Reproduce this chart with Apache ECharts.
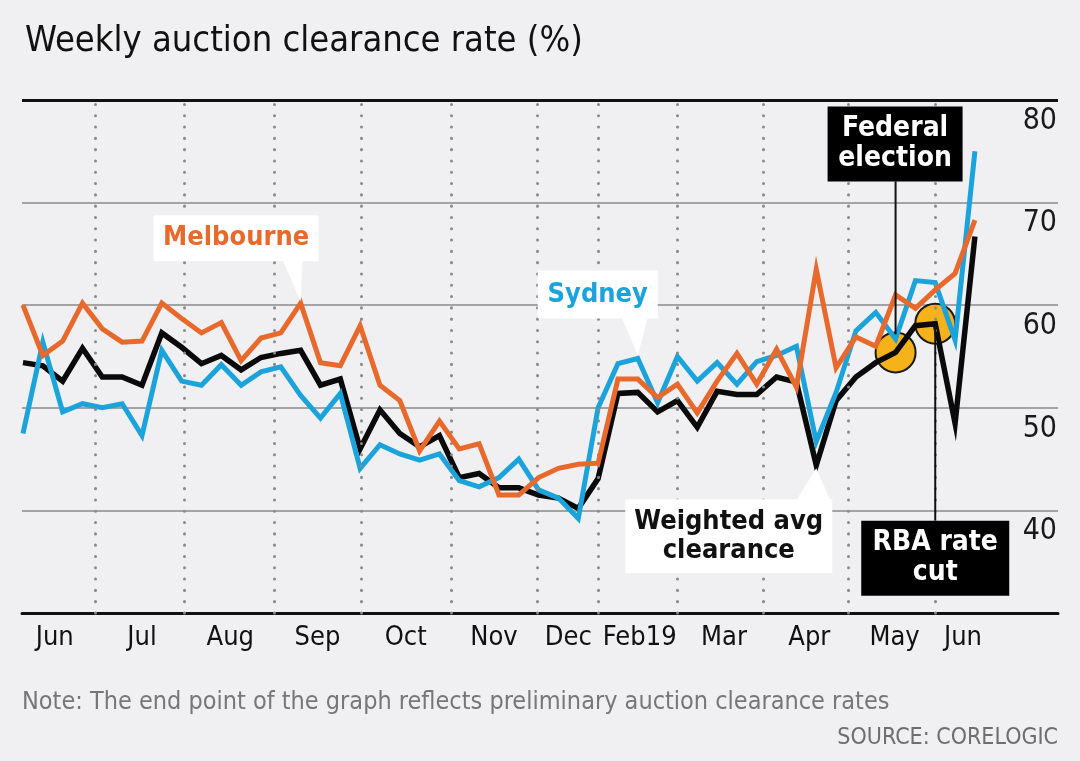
<!DOCTYPE html>
<html>
<head>
<meta charset="utf-8">
<script src="https://cdn.jsdelivr.net/npm/echarts@6/dist/echarts.min.js"></script>
<style>
  html, body { margin: 0; padding: 0; background: #f0eff1; }
  #main { width: 1080px; height: 761px; }
</style>
</head>
<body>
<div id="main"></div>
<script>
// ---- data (weekly, x = week number in the series) ----
const melbourne = [60.0, 55.1, 56.5, 60.2, 57.7, 56.4, 56.5, 60.2, 58.7, 57.3, 58.3, 54.6, 56.8, 57.3, 60.2, 54.4, 54.1,
  58.0, 52.2, 50.7, 45.8, 48.7, 46.0, 46.5, 41.5, 41.5, 43.2, 44.1, 44.5, 44.6, 52.8, 52.8, 51.0, 52.3, 49.5, 52.6,
  55.3, 52.3, 55.7, 52.0, 63.5, 53.9, 56.9, 56.0, 61.0, 59.7, 61.5, 63.1, 68.3];
const sydney = [47.5, 56.4, 49.6, 50.4, 50.0, 50.4, 47.3, 55.6, 52.6, 52.2, 54.2, 52.2, 53.5, 54.0, 51.2, 49.0, 51.4,
  44.1, 46.4, 45.5, 44.9, 45.5, 42.9, 42.3, 43.2, 45.0, 42.0, 41.2, 39.2, 50.0, 54.3, 54.8, 50.5, 55.0, 52.6, 54.4,
  52.3, 54.5, 55.1, 56.0, 46.7, 51.5, 57.5, 59.3, 56.7, 62.4, 62.2, 56.6, 75.0];
const weighted = [54.4, 54.1, 52.6, 55.8, 53.0, 53.0, 52.2, 57.3, 55.9, 54.3, 55.1, 53.7, 54.9, 55.3, 55.6, 52.2, 52.8,
  46.0, 49.8, 47.5, 46.2, 47.3, 43.2, 43.6, 42.2, 42.2, 41.5, 41.2, 40.2, 43.1, 51.4, 51.5, 49.6, 50.7, 48.1, 51.6,
  51.3, 51.3, 53.0, 52.5, 44.4, 50.7, 53.0, 54.4, 55.4, 58.0, 58.2, 48.5, 66.7];
const monthLabels = ['Jun', 'Jul', 'Aug', 'Sep', 'Oct', 'Nov', 'Dec', 'Feb19', 'Mar', 'Apr', 'May', 'Jun'];
const monthLabelWeek = [1.6, 6.0, 10.45, 14.85, 19.3, 23.75, 27.5, 31.1, 35.35, 39.65, 43.95, 47.4];
const monthStartWeek = [3.63, 8.12, 12.66, 17.05, 21.58, 25.92, 29.0, 32.98, 37.32, 41.6, 45.99];
const yTicks = [30, 40, 50, 60, 70, 80];
const eventWeeks = [44, 46]; // Federal election, RBA rate cut

const FONT = "'Liberation Sans Narrow','DejaVu Sans Condensed','Roboto Condensed','Open Sans',sans-serif";
const ORANGE = '#e8692c', BLUE = '#1ba3dc', BLACK = '#0a0a0a';

const toXY = arr => arr.map((v, i) => [i, v]);

const chart = echarts.init(document.getElementById('main'), null, { renderer: 'canvas' });

const option = {
  backgroundColor: '#f0eff1',
  animation: false,
  title: {
    text: 'Weekly auction clearance rate (%)',
    left: 20, top: 19,
    textStyle: { fontFamily: FONT, fontSize: 36, fontWeight: 'normal', color: '#111' }
  },
  grid: { left: 22, right: 22, top: 100, bottom: 148 },
  xAxis: {
    type: 'value', min: -0.05, max: 52.19,
    splitLine: { show: false },
    axisTick: { show: false },
    axisLine: { show: true, lineStyle: { color: '#111', width: 3 } },
    axisLabel: {
      customValues: monthLabelWeek,
      margin: 11,
      fontFamily: FONT, fontSize: 27, color: '#111',
      formatter: function (val) {
        let best = 0, d = 1e9;
        monthLabelWeek.forEach((w, k) => { if (Math.abs(w - val) < d) { d = Math.abs(w - val); best = k; } });
        return monthLabels[best];
      }
    }
  },
  yAxis: {
    type: 'value', position: 'right', min: yTicks[0], max: yTicks[yTicks.length - 1], interval: 10,
    axisLine: { show: false }, axisTick: { show: false },
    splitLine: { show: true, lineStyle: { color: '#8a8a8a', width: 1.5 } },
    axisLabel: {
      inside: true, margin: 1, verticalAlign: 'top', padding: [6, 0, 0, 0],
      fontFamily: FONT, fontSize: 30, color: '#1a1a1a',
      formatter: v => (v === yTicks[0] ? '' : String(v))
    }
  },
  series: [
    {
      type: 'line', data: [], z: 1, silent: true,
      markLine: {
        silent: true, symbol: 'none', label: { show: false },
        lineStyle: { color: '#8a8a8a', width: 3, type: [0.1, 11.2], cap: 'round' },
        data: monthStartWeek.map(w => ({ xAxis: w }))
      }
    },
    {
      type: 'line', data: [], z: 1, silent: true,
      markLine: {
        silent: true, symbol: 'none', label: { show: false },
        lineStyle: { color: '#111', width: 3, type: 'solid' },
        data: [{ yAxis: yTicks[yTicks.length - 1] }]
      }
    },
    {
      name: 'Events', type: 'scatter', z: 2, symbolSize: 40,
      data: eventWeeks.map(i => [i, weighted[i]]),
      itemStyle: { color: '#f5b21b', borderColor: '#1a1a1a', borderWidth: 2, opacity: 1 }
    },
    {
      name: 'Weighted avg clearance', type: 'line', z: 3, symbol: 'none',
      data: toXY(weighted),
      lineStyle: { color: BLACK, width: 5.5, join: 'miter' }
    },
    {
      name: 'Sydney', type: 'line', z: 4, symbol: 'none',
      data: toXY(sydney),
      lineStyle: { color: BLUE, width: 5, join: 'miter' }
    },
    {
      name: 'Melbourne', type: 'line', z: 5, symbol: 'none',
      data: toXY(melbourne),
      lineStyle: { color: ORANGE, width: 5, join: 'miter' }
    }
  ]
};
chart.setOption(option);

function px(i, v) { return chart.convertToPixel({ xAxisIndex: 0, yAxisIndex: 0 }, [i, v]); }

function boxLabel(x, y, w, h, lines, bg, fg, fontSize, lineH) {
  const els = [{ type: 'rect', shape: { x: x, y: y, width: w, height: h }, style: { fill: bg }, z: 100 }];
  const cy = y + h / 2;
  lines.forEach((t, k) => {
    els.push({
      type: 'text', z: 101,
      style: {
        text: t, x: x + w / 2, y: cy + (k - (lines.length - 1) / 2) * lineH,
        align: 'center', verticalAlign: 'middle',
        fontFamily: FONT, fontSize: fontSize, fontWeight: 'bold', fill: fg
      }
    });
  });
  return els;
}

const g = [];
// Melbourne
let t = px(14, melbourne[14]);
g.push(...boxLabel(t[0] - 147, t[1] - 88, 165, 46, ['Melbourne'], '#ffffff', ORANGE, 27, 30));
g.push({ type: 'polygon', z: 99, shape: { points: [[t[0] - 18, t[1] - 43], [t[0] + 2, t[1] - 43], [t[0], t[1] - 2]] }, style: { fill: '#ffffff' } });
// Sydney
t = px(31, sydney[31]);
g.push(...boxLabel(t[0] - 100, t[1] - 88, 120, 48, ['Sydney'], '#ffffff', BLUE, 27, 30));
g.push({ type: 'polygon', z: 99, shape: { points: [[t[0] - 16, t[1] - 41], [t[0] + 10, t[1] - 41], [t[0], t[1] - 3]] }, style: { fill: '#ffffff' } });
// Weighted avg
t = px(40, weighted[40]);
g.push(...boxLabel(t[0] - 191, t[1] + 34, 207, 74, ['Weighted avg', 'clearance'], '#ffffff', '#111', 27, 29));
g.push({ type: 'polygon', z: 99, shape: { points: [[t[0] - 20, t[1] + 35], [t[0] + 14, t[1] + 35], [t[0], t[1] + 3]] }, style: { fill: '#ffffff' } });
// Federal election
t = px(eventWeeks[0], weighted[eventWeeks[0]]);
g.push(...boxLabel(t[0] - 68, t[1] - 246, 135, 75, ['Federal', 'election'], '#000000', '#ffffff', 28, 30));
g.push({ type: 'line', z: 6, shape: { x1: t[0], y1: t[1] - 171, x2: t[0], y2: t[1] - 18 }, style: { stroke: '#111', lineWidth: 2 } });
// RBA rate cut
t = px(eventWeeks[1], weighted[eventWeeks[1]]);
g.push(...boxLabel(t[0] - 74, t[1] + 197, 148, 75, ['RBA rate', 'cut'], '#000000', '#ffffff', 28, 30));
g.push({ type: 'line', z: 6, shape: { x1: t[0], y1: t[1] + 2, x2: t[0], y2: t[1] + 197 }, style: { stroke: '#111', lineWidth: 2 } });
// Footer texts
g.push({ type: 'text', z: 101, style: { text: 'Note: The end point of the graph reflects preliminary auction clearance rates', x: 22, y: 702, verticalAlign: 'middle', fontFamily: FONT, fontSize: 25, fill: '#777777' } });
g.push({ type: 'text', z: 101, style: { text: 'SOURCE: CORELOGIC', x: 1058, y: 738, align: 'right', verticalAlign: 'middle', fontFamily: FONT, fontSize: 23, fill: '#6e6e6e' } });

chart.setOption({ graphic: g });
</script>
</body>
</html>
